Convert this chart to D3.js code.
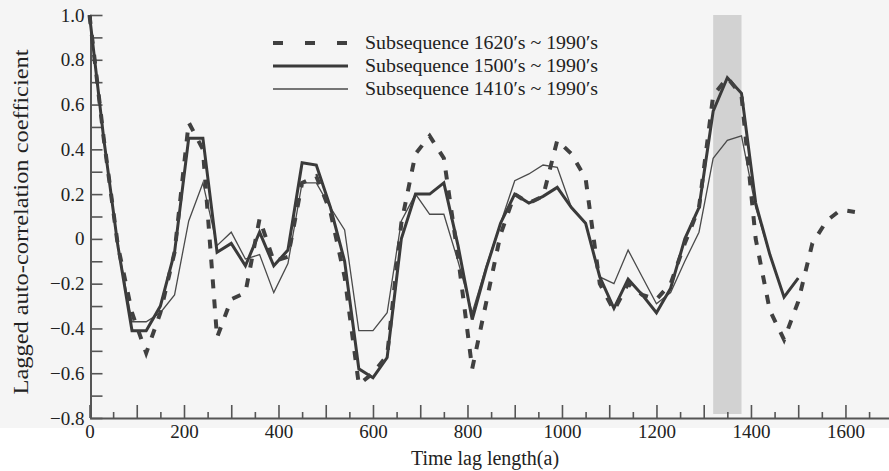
<!DOCTYPE html>
<html>
<head>
<meta charset="utf-8">
<script src="https://cdn.jsdelivr.net/npm/d3@7"></script>
<style>
  body { margin: 0; background: #fff; }
  text { font-family: "Liberation Serif", "DejaVu Serif", serif; fill: #222; }
</style>
</head>
<body>
<div id="chart"></div>
<script>
// lag steps (a)
const lags = [0, 30, 60, 90, 120, 150, 180, 210, 240, 270, 300, 330, 360, 390, 420, 450, 480, 510,
  540, 570, 600, 630, 660, 690, 720, 750, 780, 810, 840, 870, 900, 930, 960, 990, 1020, 1050,
  1080, 1110, 1140, 1170, 1200, 1230, 1260, 1290, 1320, 1350, 1380, 1410, 1440, 1470, 1500,
  1530, 1560, 1590, 1620];

// Subsequence 1620's ~ 1990's (dashed)
const s1620 = [1.0, 0.45, -0.03, -0.33, -0.51, -0.33, -0.06, 0.52, 0.40, -0.44, -0.27, -0.24,
  0.09, -0.10, -0.08, 0.25, 0.28, 0.12, -0.17, -0.65, -0.60, -0.52, 0.07, 0.38, 0.46, 0.36,
  -0.08, -0.58, -0.28, 0.02, 0.20, 0.16, 0.19, 0.44, 0.38, 0.27, -0.20, -0.32, -0.20, -0.25,
  -0.27, -0.20, -0.02, 0.14, 0.64, 0.72, 0.64, 0.0, -0.32, -0.45, -0.28, -0.02, 0.08, 0.13, 0.12];

// Subsequence 1500's ~ 1990's (thick)
const s1500 = [1.0, 0.45, -0.03, -0.41, -0.41, -0.30, -0.06, 0.45, 0.45, -0.06, -0.02, -0.12,
  0.03, -0.12, -0.05, 0.34, 0.33, 0.14, -0.10, -0.58, -0.62, -0.53, 0.0, 0.20, 0.20, 0.25,
  -0.03, -0.36, -0.13, 0.07, 0.20, 0.16, 0.19, 0.23, 0.14, 0.07, -0.17, -0.31, -0.18, -0.25,
  -0.33, -0.22, 0.0, 0.14, 0.57, 0.72, 0.65, 0.16, -0.07, -0.26, -0.175, null, null, null, null];

// Subsequence 1410's ~ 1990's (thin)
const s1410 = [1.0, 0.45, -0.03, -0.37, -0.37, -0.33, -0.25, 0.08, 0.25, -0.03, 0.03, -0.09,
  -0.07, -0.24, -0.11, 0.25, 0.25, 0.14, 0.04, -0.41, -0.41, -0.33, 0.08, 0.20, 0.11, 0.11,
  -0.10, -0.33, -0.12, 0.07, 0.26, 0.29, 0.33, 0.32, 0.14, 0.07, -0.17, -0.20, -0.05, -0.17,
  -0.29, -0.24, -0.10, 0.03, 0.36, 0.44, 0.46, 0.14, -0.07, -0.26, -0.175, null, null, null, null];

const band = [1320, 1380];
const legendLabels = ["Subsequence 1620\u2032s ~ 1990\u2032s",
  "Subsequence 1500\u2032s ~ 1990\u2032s",
  "Subsequence 1410\u2032s ~ 1990\u2032s"];

const W = 889, H = 471;
const svg = d3.select("#chart").append("svg").attr("width", W).attr("height", H);

svg.append("rect").attr("width", W).attr("height", 428).attr("fill", "#f5f5f5");

const x = d3.scaleLinear().domain([0, 1700]).range([89.5, 892.7]);
const y = d3.scaleLinear().domain([-0.8, 1.0]).range([418, 15]);

// shaded band
svg.append("rect")
  .attr("x", x(band[0])).attr("width", x(band[1]) - x(band[0]))
  .attr("y", y(1.0)).attr("height", y(-0.8) - y(1.0) - 4)
  .attr("fill", "#d2d2d2");

// axes
const fmtY = (d) => {
  const k = Math.round(d * 10);
  if (k % 2 !== 0) return "";
  if (k === 0) return "0";
  return (k < 0 ? "\u2212" : "") + Math.abs(d).toFixed(1);
};

const yAxis = svg.append("g")
  .attr("transform", `translate(${x(0) + 1},0)`)
  .call(d3.axisLeft(y)
    .tickValues(d3.range(-8, 11).map((d) => d / 10))
    .tickSizeInner(-12).tickSizeOuter(0).tickPadding(6)
    .tickFormat(fmtY));

const xMinor = svg.append("g")
  .attr("transform", `translate(0,${y(-0.8)})`)
  .call(d3.axisBottom(x)
    .tickValues(d3.range(50, 1700, 100))
    .tickSizeInner(-6).tickSizeOuter(0).tickFormat(""));

const xAxis = svg.append("g")
  .attr("transform", `translate(0,${y(-0.8)})`)
  .call(d3.axisBottom(x)
    .tickValues(d3.range(0, 1700, 100))
    .tickSizeInner(-13).tickSizeOuter(0).tickPadding(7)
    .tickFormat((d) => (d % 200 === 0 ? d : "")));

[yAxis, xMinor, xAxis].forEach((g) => {
  g.selectAll("path.domain").attr("stroke", "#555").attr("stroke-width", 2);
  g.selectAll(".tick line").attr("stroke", "#555").attr("stroke-width", 1.6);
  g.selectAll("text").style("font-family", "Liberation Serif").style("font-size", "19px").attr("fill", "#222");
});
xMinor.select("path.domain").remove();

// lines
const line = d3.line()
  .defined((d) => d[1] !== null)
  .x((d) => x(d[0]))
  .y((d) => y(d[1]));

const series = [
  { values: s1410, width: 1.3, color: "#4a4a4a", dash: null },
  { values: s1500, width: 3, color: "#3a3a3a", dash: null },
  { values: s1620, width: 4, color: "#404040", dash: "9,11" },
];

series.forEach((s) => {
  svg.append("path")
    .datum(lags.map((l, i) => [l, s.values[i]]))
    .attr("d", line)
    .attr("fill", "none")
    .attr("stroke", s.color)
    .attr("stroke-width", s.width)
    .attr("stroke-dasharray", s.dash)
    .attr("stroke-linejoin", "miter");
});

// legend
const legendStyles = [series[2], series[1], series[0]];
const legend = svg.append("g");
legendLabels.forEach((lab, i) => {
  const ly = 43 + i * 23;
  legend.append("line")
    .attr("x1", 273).attr("x2", 348).attr("y1", ly).attr("y2", ly)
    .attr("stroke", legendStyles[i].color)
    .attr("stroke-width", legendStyles[i].width)
    .attr("stroke-dasharray", i === 0 ? "10,22" : null);
  legend.append("text")
    .attr("x", 365).attr("y", ly + 6)
    .style("font-size", "19px")
    .attr("textLength", 233).attr("lengthAdjust", "spacingAndGlyphs")
    .text(lab);
});

// axis titles
svg.append("text")
  .attr("x", 485).attr("y", 465)
  .attr("text-anchor", "middle")
  .style("font-size", "20px")
  .text("Time lag length(a)");

svg.append("text")
  .attr("transform", "translate(28,222) rotate(-90)")
  .attr("text-anchor", "middle")
  .style("font-size", "20px")
  .attr("textLength", 345).attr("lengthAdjust", "spacingAndGlyphs")
  .text("Lagged auto-correlation coefficient");
</script>
</body>
</html>
